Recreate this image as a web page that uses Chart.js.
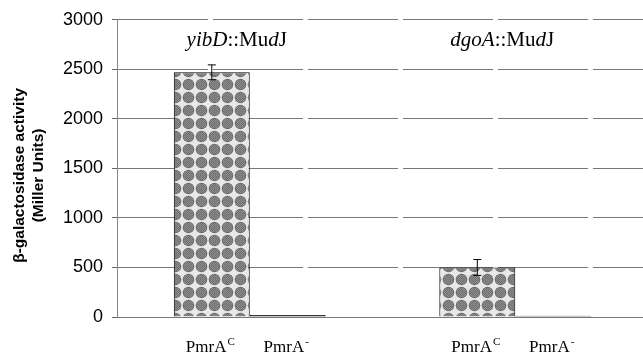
<!DOCTYPE html>
<html>
<head>
<meta charset="utf-8">
<script src="https://cdn.jsdelivr.net/npm/chart.js@4"></script>
<style>
  html, body { margin: 0; padding: 0; overflow: hidden; background: #fff; }
</style>
</head>
<body>
<canvas id="chart-canvas" width="648" height="358"></canvas>
<script>
// data
var groups = ['yibD::MudJ', 'dgoA::MudJ'];
var groupTitleParts = [
  [['yibD', true], ['::Mu', false], ['d', true], ['J', false]],
  [['dgoA', true], ['::Mu', false], ['d', true], ['J', false]]
];
var seriesBase = ['PmrA', 'PmrA'];
var seriesSup = ['C', '-'];
var pmrC = [2470, 500];
var pmrCErr = [75, 80];
var pmrMinus = [20, 12];
var pmrMinusErr = [0, 0];
var yMax = 3000;
var yStep = 500;
var yTitle = ['\u03b2-galactosidase activity', '(Miller Units)'];

var canvas = document.getElementById('chart-canvas');
var ctx = canvas.getContext('2d');

// grey halftone net used by the bars
function makePattern() {
  var p = document.createElement('canvas');
  p.width = 13; p.height = 13;
  var c = p.getContext('2d');
  c.fillStyle = '#e8e8e8';
  c.fillRect(0, 0, 13, 13);
  c.fillStyle = '#6f6f6f';
  c.beginPath(); c.arc(6.5, 6.5, 5.8, 0, Math.PI * 2); c.fill();
  c.fillStyle = '#8e8e8e';
  for (var y = 0; y < 13; y++) {
    for (var x = 0; x < 13; x++) {
      var dx = x + 0.5 - 6.5, dy = y + 0.5 - 6.5;
      if ((x + y) % 2 == 0 && dx * dx + dy * dy < 26) c.fillRect(x, y, 1, 1);
    }
  }
  return ctx.createPattern(p, 'repeat');
}
var barFill = makePattern();

var errorBars = {
  id: 'errorBars',
  afterDatasetsDraw(chart) {
    var c = chart.ctx;
    var ys = chart.scales.y;
    chart.data.datasets.forEach(function (ds, di) {
      var meta = chart.getDatasetMeta(di);
      meta.data.forEach(function (el, i) {
        var e = ds.errors[i];
        if (!e) return;
        var v = ds.data[i];
        var top = ys.getPixelForValue(v + e);
        var bot = ys.getPixelForValue(v - e);
        c.save();
        c.strokeStyle = '#000';
        c.lineWidth = 1;
        c.beginPath();
        c.moveTo(el.x, top); c.lineTo(el.x, bot);
        c.moveTo(el.x - 4, top); c.lineTo(el.x + 4, top);
        c.moveTo(el.x - 4, bot); c.lineTo(el.x + 4, bot);
        c.stroke();
        c.restore();
      });
    });
  }
};

var textLabels = {
  id: 'textLabels',
  afterDraw(chart) {
    var c = chart.ctx;
    var area = chart.chartArea;
    c.save();
    c.fillStyle = '#000';
    c.textBaseline = 'alphabetic';

    // labels under each bar
    chart.data.datasets.forEach(function (ds, di) {
      var meta = chart.getDatasetMeta(di);
      meta.data.forEach(function (el) {
        c.font = '17px "Liberation Serif", serif';
        var w1 = c.measureText(seriesBase[di]).width;
        c.font = '11px "Liberation Serif", serif';
        var w2 = c.measureText(seriesSup[di]).width;
        var x0 = el.x - (w1 + w2) / 2 - 2;
        c.textAlign = 'left';
        c.font = '17px "Liberation Serif", serif';
        c.fillText(seriesBase[di], x0, 352);
        c.font = '11px "Liberation Serif", serif';
        c.fillText(seriesSup[di], x0 + w1 + 1, 345);
      });
    });

    // group titles inside the plot
    var xs = chart.scales.x;
    groupTitleParts.forEach(function (parts, gi) {
      var total = 0;
      parts.forEach(function (p) {
        c.font = (p[1] ? 'italic ' : '') + '21px "Liberation Serif", serif';
        total += c.measureText(p[0]).width;
      });
      var x = xs.getPixelForValue(gi) - 13 - total / 2;
      parts.forEach(function (p) {
        c.font = (p[1] ? 'italic ' : '') + '21px "Liberation Serif", serif';
        c.textAlign = 'left';
        c.fillText(p[0], x, 46);
        x += c.measureText(p[0]).width;
      });
    });

    // y axis title
    c.translate(0, (area.top + area.bottom) / 2 + 7);
    c.rotate(-Math.PI / 2);
    c.textAlign = 'center';
    c.textBaseline = 'middle';
    c.font = 'bold 15.5px "Liberation Sans", Arial, sans-serif';
    c.fillText(yTitle[0], 0, 20);
    c.fillText(yTitle[1], 0, 39);
    c.restore();
  }
};

var chart = new Chart(ctx, {
  type: 'bar',
  data: {
    labels: groups,
    datasets: [
      {
        label: seriesBase[0] + seriesSup[0],
        data: pmrC,
        errors: pmrCErr,
        backgroundColor: barFill,
        borderColor: '#000',
        borderWidth: 1
      },
      {
        label: seriesBase[1] + seriesSup[1],
        data: pmrMinus,
        errors: pmrMinusErr,
        backgroundColor: '#222',
        borderColor: '#000',
        borderWidth: 1
      }
    ]
  },
  options: {
    responsive: false,
    animation: false,
    layout: { padding: { top: 17, left: 0, right: 0, bottom: 0 } },
    plugins: {
      legend: { display: false },
      tooltip: { enabled: false }
    },
    datasets: {
      bar: { categoryPercentage: 0.572, barPercentage: 1.0 }
    },
    scales: {
      x: {
        grid: { display: false },
        ticks: { display: false },
        border: { display: true, color: '#777', width: 1 },
        afterFit: function (scale) { scale.height = 41; }
      },
      y: {
        min: 0,
        max: yMax,
        ticks: {
          stepSize: yStep,
          color: '#000',
          padding: 9,
          font: { family: '"Liberation Sans", Arial, sans-serif', size: 18 },
          callback: function (v) { return String(v); }
        },
        grid: {
          color: '#777',
          lineWidth: 1,
          tickLength: 5,
          tickColor: '#666'
        },
        border: { display: true, color: '#888', width: 1, dash: [90, 5] },
        afterFit: function (scale) { scale.width = 117; }
      }
    }
  },
  plugins: [errorBars, textLabels]
});
</script>
</body>
</html>
